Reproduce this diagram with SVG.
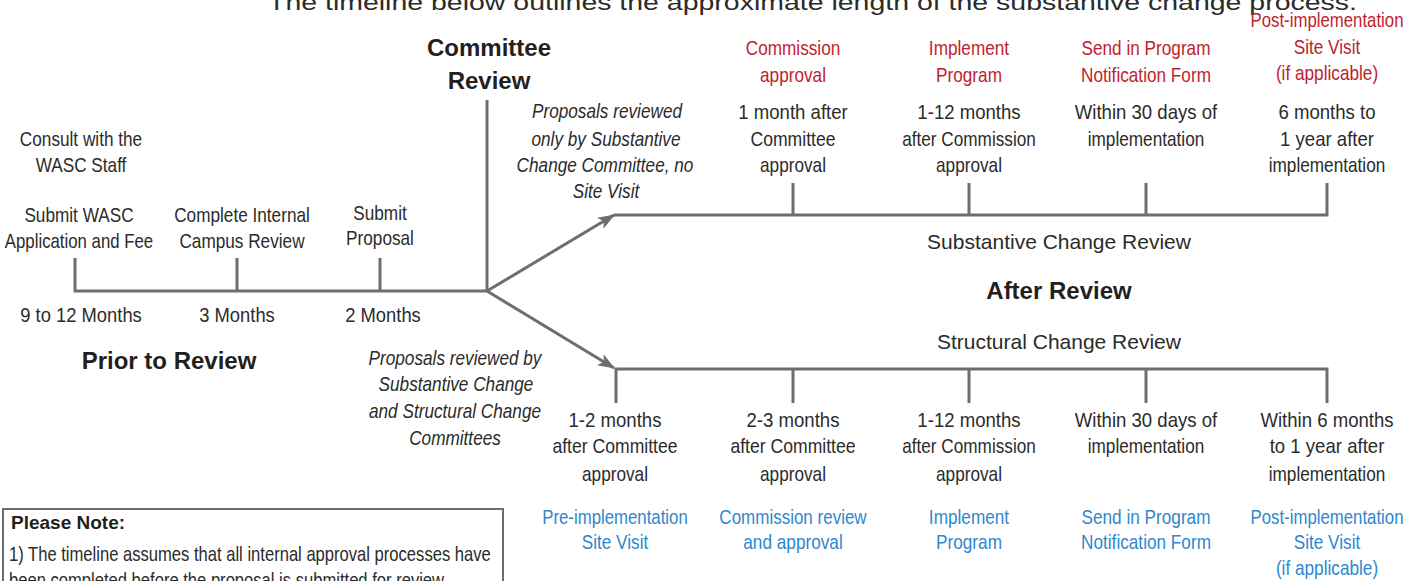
<svg xmlns="http://www.w3.org/2000/svg" width="1413" height="581" viewBox="0 0 1413 581">
<defs>
<marker id="arr" markerUnits="userSpaceOnUse" markerWidth="17" markerHeight="13" refX="16" refY="6.5" orient="auto">
<path d="M0,0 L17,6.5 L0,13 L4,6.5 Z" fill="#6d6e71"/>
</marker>
<style>
.t{font-family:"Liberation Sans",Arial,sans-serif;font-size:20px;fill:#2b2b2b;text-anchor:middle}
.l{text-anchor:start}
.i{font-style:italic}
.r{fill:#be1e2d}
.b{fill:#2f87cd}
.h{font-family:"Liberation Sans",Arial,sans-serif;font-weight:bold;font-size:24px;fill:#231f20;text-anchor:middle}
.w{font-family:"Liberation Sans",Arial,sans-serif;font-size:21px;fill:#2b2b2b;text-anchor:middle}
.ln{stroke:#6d6e71;stroke-width:3;fill:none}
</style>
</defs>
<rect width="1413" height="581" fill="#fff"/>
<text x="268" y="10" textLength="1089" lengthAdjust="spacingAndGlyphs" style="font-family:'Liberation Sans',Arial,sans-serif;font-size:22px;fill:#2b2b2b">The timeline below outlines the approximate length of the substantive change process.</text>

<g id="connectors">
<path class="ln" d="M75,258 V291 H487"/>
<path class="ln" d="M237,258 V291 M380,258 V291"/>
<path class="ln" d="M487,100 V291"/>
<path class="ln" d="M487,291 L614,215" marker-end="url(#arr)"/>
<path class="ln" d="M487,291 L614,368" marker-end="url(#arr)"/>
<path class="ln" d="M614,215 H1327 V183"/>
<path class="ln" d="M793,183 V215 M969,183 V215 M1146,183 V215"/>
<path class="ln" d="M616,403 V369 H1327 V403"/>
<path class="ln" d="M793,369 V403 M969,369 V403 M1146,369 V403"/>
</g>

<g id="prior">
<text class="t" transform="translate(81,146) scale(0.86,1)">Consult with the</text>
<text class="t" transform="translate(81,172) scale(0.86,1)">WASC Staff</text>
<text class="t" transform="translate(79,222) scale(0.86,1)">Submit WASC</text>
<text class="t" transform="translate(79,248) scale(0.84,1)">Application and Fee</text>
<text class="t" transform="translate(242,222) scale(0.86,1)">Complete Internal</text>
<text class="t" transform="translate(242,248) scale(0.86,1)">Campus Review</text>
<text class="t" transform="translate(380,220) scale(0.86,1)">Submit</text>
<text class="t" transform="translate(380,245) scale(0.86,1)">Proposal</text>
<text class="t" transform="translate(81,322) scale(0.92,1)">9 to 12 Months</text>
<text class="t" transform="translate(237,322) scale(0.92,1)">3 Months</text>
<text class="t" transform="translate(383,322) scale(0.92,1)">2 Months</text>
<text class="h" x="169" y="369">Prior to Review</text>
</g>

<g id="committee">
<text class="h" x="489" y="56">Committee</text>
<text class="h" x="489" y="89">Review</text>
<text class="t i" transform="translate(607,118) scale(0.86,1)">Proposals reviewed</text>
<text class="t i" transform="translate(606,146) scale(0.86,1)">only by Substantive</text>
<text class="t i" transform="translate(605,172) scale(0.86,1)">Change Committee, no</text>
<text class="t i" transform="translate(606,198) scale(0.86,1)">Site Visit</text>
<text class="t i" transform="translate(455,365) scale(0.86,1)">Proposals reviewed by</text>
<text class="t i" transform="translate(456,391) scale(0.86,1)">Substantive Change</text>
<text class="t i" transform="translate(455,418) scale(0.86,1)">and Structural Change</text>
<text class="t i" transform="translate(455,445) scale(0.86,1)">Committees</text>
</g>

<g id="substantive">
<text class="t r" transform="translate(793,55) scale(0.86,1)">Commission</text>
<text class="t r" transform="translate(793,82) scale(0.86,1)">approval</text>
<text class="t" transform="translate(793,119) scale(0.93,1)">1 month after</text>
<text class="t" transform="translate(793,146) scale(0.88,1)">Committee</text>
<text class="t" transform="translate(793,172) scale(0.86,1)">approval</text>
<text class="t r" transform="translate(969,55) scale(0.86,1)">Implement</text>
<text class="t r" transform="translate(969,82) scale(0.86,1)">Program</text>
<text class="t" transform="translate(969,119) scale(0.93,1)">1-12 months</text>
<text class="t" transform="translate(969,146) scale(0.86,1)">after Commission</text>
<text class="t" transform="translate(969,172) scale(0.86,1)">approval</text>
<text class="t r" transform="translate(1146,55) scale(0.86,1)">Send in Program</text>
<text class="t r" transform="translate(1146,82) scale(0.86,1)">Notification Form</text>
<text class="t" transform="translate(1146,119) scale(0.93,1)">Within 30 days of</text>
<text class="t" transform="translate(1146,146) scale(0.86,1)">implementation</text>
<text class="t r" transform="translate(1327,27) scale(0.84,1)">Post-implementation</text>
<text class="t r" transform="translate(1327,54) scale(0.86,1)">Site Visit</text>
<text class="t r" transform="translate(1327,80) scale(0.86,1)">(if applicable)</text>
<text class="t" transform="translate(1327,119) scale(0.93,1)">6 months to</text>
<text class="t" transform="translate(1327,146) scale(0.93,1)">1 year after</text>
<text class="t" transform="translate(1327,172) scale(0.86,1)">implementation</text>
<text class="w" x="1059" y="249">Substantive Change Review</text>
</g>

<g id="after">
<text class="h" x="1059" y="299">After Review</text>
</g>

<g id="structural">
<text class="w" x="1059" y="349">Structural Change Review</text>
<text class="t" transform="translate(615,427) scale(0.93,1)">1-2 months</text>
<text class="t" transform="translate(615,453) scale(0.88,1)">after Committee</text>
<text class="t" transform="translate(615,481) scale(0.86,1)">approval</text>
<text class="t b" transform="translate(615,524) scale(0.84,1)">Pre-implementation</text>
<text class="t b" transform="translate(615,549) scale(0.86,1)">Site Visit</text>
<text class="t" transform="translate(793,427) scale(0.93,1)">2-3 months</text>
<text class="t" transform="translate(793,453) scale(0.88,1)">after Committee</text>
<text class="t" transform="translate(793,481) scale(0.86,1)">approval</text>
<text class="t b" transform="translate(793,524) scale(0.85,1)">Commission review</text>
<text class="t b" transform="translate(793,549) scale(0.86,1)">and approval</text>
<text class="t" transform="translate(969,427) scale(0.93,1)">1-12 months</text>
<text class="t" transform="translate(969,453) scale(0.86,1)">after Commission</text>
<text class="t" transform="translate(969,481) scale(0.86,1)">approval</text>
<text class="t b" transform="translate(969,524) scale(0.86,1)">Implement</text>
<text class="t b" transform="translate(969,549) scale(0.86,1)">Program</text>
<text class="t" transform="translate(1146,427) scale(0.93,1)">Within 30 days of</text>
<text class="t" transform="translate(1146,453) scale(0.86,1)">implementation</text>
<text class="t b" transform="translate(1146,524) scale(0.86,1)">Send in Program</text>
<text class="t b" transform="translate(1146,549) scale(0.86,1)">Notification Form</text>
<text class="t" transform="translate(1327,427) scale(0.93,1)">Within 6 months</text>
<text class="t" transform="translate(1327,453) scale(0.93,1)">to 1 year after</text>
<text class="t" transform="translate(1327,481) scale(0.86,1)">implementation</text>
<text class="t b" transform="translate(1327,524) scale(0.84,1)">Post-implementation</text>
<text class="t b" transform="translate(1327,549) scale(0.86,1)">Site Visit</text>
<text class="t b" transform="translate(1327,575) scale(0.86,1)">(if applicable)</text>
</g>

<g id="note">
<rect x="3" y="509" width="500" height="100" fill="#fff" stroke="#6d6e71" stroke-width="2"/>
<text x="11" y="529" style="font-family:'Liberation Sans',Arial,sans-serif;font-weight:bold;font-size:19px;fill:#231f20">Please Note:</text>
<text class="t l" transform="translate(9,561) scale(0.83,1)">1) The timeline assumes that all internal approval processes have</text>
<text class="t l" transform="translate(9,587) scale(0.83,1)">been completed before the proposal is submitted for review.</text>
</g>
</svg>
